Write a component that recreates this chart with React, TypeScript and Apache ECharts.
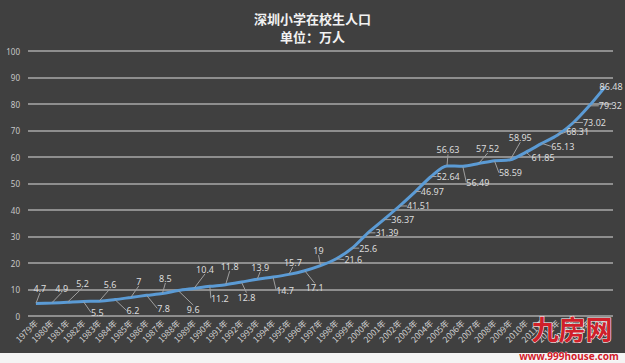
import React, { useEffect, useRef } from "react";
import * as echarts from "echarts";

const titleLines = ["深圳小学在校生人口", "单位：万人"];
const years = [
  "1979年", "1980年", "1981年", "1982年", "1983年", "1984年", "1985年", "1986年", "1987年", "1988年",
  "1989年", "1990年", "1991年", "1992年", "1993年", "1994年", "1995年", "1996年", "1997年", "1998年",
  "1999年", "2000年", "2001年", "2002年", "2003年", "2004年", "2005年", "2006年", "2007年", "2008年",
  "2009年", "2010年", "2011年", "2012年", "2013年", "2014年", "2015年",
];
const students = [
  4.7, 4.9, 5.2, 5.5, 5.6, 6.2, 7, 7.8, 8.5, 9.6,
  10.4, 11.2, 11.8, 12.8, 13.9, 14.7, 15.7, 17.1, 19, 21.6,
  25.6, 31.39, 36.37, 41.51, 46.97, 52.64, 56.63, 56.49, 57.52, 58.59,
  58.95, 61.85, 65.13, 68.31, 73.02, 79.32, 86.48,
];
const yTicks = { min: 0, max: 100, interval: 10 };
const watermark = ["九房网", "www.999house.com"];

// label placement (styling only)
const labelOffsets: [number, number][] = [
  [4, -15], [10, -15], [15, -19], [14, 11], [11, -17], [18, 11], [8, -16], [17, 13], [3, -15], [15, 19],
  [11, -19], [10, 12], [4, -18], [5, 15], [3, -12], [12, 13], [4, -12], [10, 17], [-2, -15], [17, 1],
  [16, 0], [19, 0], [19, 0], [19, 0], [17, 0], [17, 0], [1, -16], [15, 16], [9, -15], [16, 12],
  [10, -22], [17, 5], [21, 3], [20, -3], [21, 0], [21, 0], [6, 0],
];

export default function App() {
  const ref = useRef<HTMLDivElement>(null);
  useEffect(() => {
    document.body.style.margin = "0";
    const chart = echarts.init(ref.current!, null, { renderer: "svg" });
    chart.setOption({
      animation: false,
      backgroundColor: "transparent",
      title: {
        text: titleLines.join("\n"),
        left: "center",
        top: 4,
        textStyle: {
          color: "#f2f2f2",
          fontSize: 13,
          fontWeight: "bold",
          lineHeight: 18,
          fontFamily: "Noto Sans CJK SC",
        },
      },
      grid: { left: 28, right: 12, top: 51, bottom: 47, containLabel: false },
      xAxis: {
        type: "category",
        data: years,
        boundaryGap: true,
        axisLine: { show: false },
        axisTick: { show: false },
        axisLabel: {
          interval: 0,
          rotate: 45,
          color: "#d0d0d0",
          fontSize: 8.5,
          margin: 5,
          fontFamily: "Noto Sans CJK SC",
        },
      },
      yAxis: {
        type: "value",
        min: yTicks.min,
        max: yTicks.max,
        interval: yTicks.interval,
        axisLine: { show: false },
        axisTick: { show: false },
        axisLabel: { color: "#c8c8c8", fontSize: 8, margin: 8, fontFamily: "Noto Sans" },
        splitLine: { lineStyle: { color: "#a8a8a8", width: 1.5 } },
      },
      series: [
        {
          type: "line",
          data: students,
          smooth: 0.3,
          symbol: "circle",
          symbolSize: 1,
          showSymbol: true,
          lineStyle: { color: "#5b9bd5", width: 3 },
          itemStyle: { color: "rgba(0,0,0,0)" },
          label: {
            show: true,
            position: "inside",
            color: "#dcdcdc",
            fontSize: 9,
            fontFamily: "Noto Sans",
          },
          labelLine: { show: true, lineStyle: { color: "#a0a0a0", width: 1 } },
          labelLayout: (p: any) => {
            const o = labelOffsets[p.dataIndex] || [0, -12];
            return { dx: o[0], dy: o[1] };
          },
          z: 3,
        },
      ],
      graphic: [
        {
          type: "text",
          right: 12,
          top: 314,
          style: {
            text: watermark[0],
            fill: "#d0202a",
            stroke: "#ffffff",
            lineWidth: 1,
            fontSize: 27,
            fontWeight: "bold",
            fontFamily: "Noto Sans CJK SC",
          },
          z: 100,
        },
        {
          type: "text",
          right: 6,
          top: 351,
          style: {
            text: watermark[1],
            fill: "#d0202a",
            stroke: "#ffffff",
            lineWidth: 0.6,
            fontSize: 10,
            fontWeight: "bold",
            fontFamily: "Noto Sans",
          },
          z: 100,
        },
      ],
    });
    return () => chart.dispose();
  }, []);
  return (
    <div style={{ position: "relative", width: 625, height: 363, background: "#f4f4f4" }}>
      <div style={{ position: "absolute", left: 0, top: 0, width: 625, height: 353, background: "#404040" }} />
      <div ref={ref} style={{ position: "absolute", left: 0, top: 0, width: 625, height: 363 }} />
    </div>
  );
}
